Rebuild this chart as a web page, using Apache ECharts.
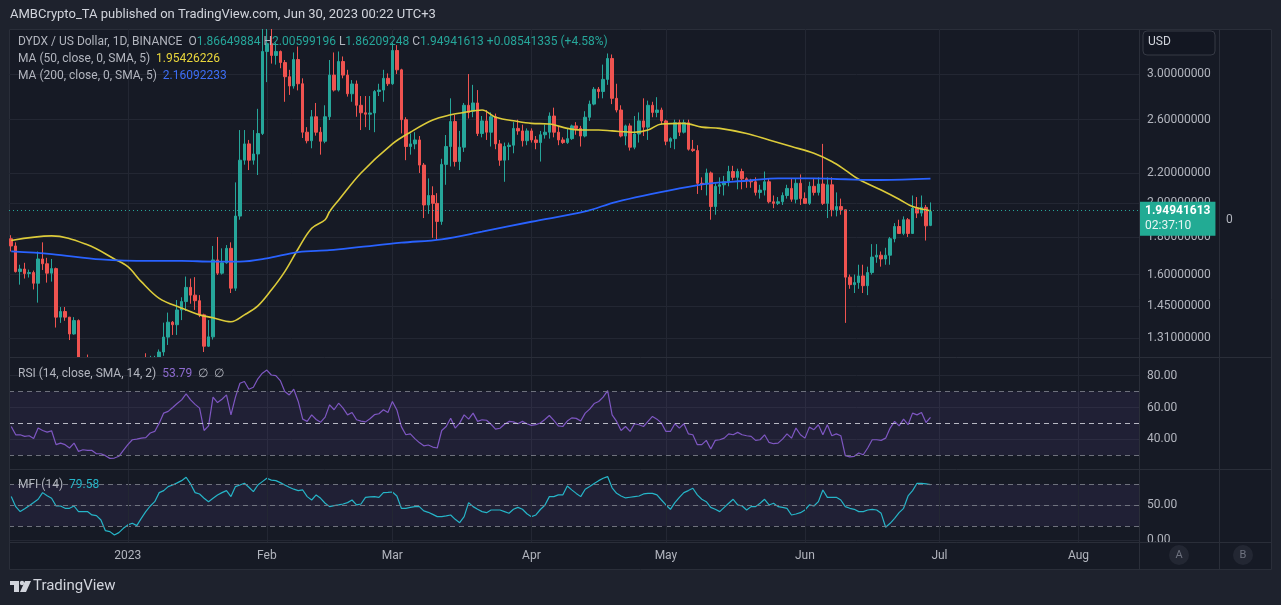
<!DOCTYPE html>
<html><head><meta charset="utf-8">
<script src="https://cdn.jsdelivr.net/npm/echarts@6/dist/echarts.min.js"></script>
<style>
html,body{margin:0;padding:0;background:#1e222d;width:1281px;height:605px;overflow:hidden;}
#panel{position:absolute;left:9px;top:29px;width:1263px;height:541px;background:#161a25;}
#bg{position:absolute;left:0;top:0;width:1281px;height:605px;}
#mainWrap{position:absolute;left:9px;top:29px;width:1263px;height:328px;overflow:hidden;}
#main{width:1263px;height:328px;}
</style></head><body>
<div id="panel"></div>
<div id="bg"></div>
<div id="mainWrap"><div id="main"></div></div>
<script>
// ---------- data ----------
const startDate = '2022-12-06';
const dayCount = 252;
const monthNames = ['Jan','Feb','Mar','Apr','May','Jun','Jul','Aug','Sep','Oct','Nov','Dec'];

const open = [1.79,1.75,1.615,1.628,1.605,1.61,1.557,1.68,1.655,1.607,
1.63,1.40,1.425,1.40,1.328,1.385,1.20,1.22,1.17,1.15,
1.12,1.10,1.06,1.01,1.03,1.00,1.04,1.07,1.10,1.09,
1.20,1.19,1.21,1.22,1.255,1.315,1.378,1.367,1.432,1.47,
1.537,1.50,1.474,1.41,1.278,1.316,1.675,1.607,1.66,1.737,
1.533,1.922,2.29,2.41,2.29,2.335,2.49,3.22,3.30,3.18,
3.22,3.11,2.975,2.89,3.14,2.91,2.50,2.434,2.624,2.50,
2.43,2.624,2.99,2.853,3.12,2.99,2.82,2.908,2.72,2.657,
2.645,2.655,2.84,2.853,2.96,2.91,3.23,3.04,2.60,2.39,
2.41,2.44,2.255,1.99,2.05,2.00,1.89,2.26,2.39,2.585,
2.28,2.385,2.72,2.67,2.74,2.49,2.59,2.50,2.624,2.41,
2.29,2.39,2.40,2.53,2.51,2.434,2.51,2.44,2.42,2.48,
2.50,2.63,2.50,2.44,2.42,2.45,2.55,2.53,2.47,2.62,
2.73,2.86,2.84,2.95,3.15,2.78,2.68,2.47,2.55,2.385,
2.486,2.59,2.54,2.72,2.66,2.68,2.59,2.43,2.45,2.575,
2.50,2.575,2.37,2.36,2.13,2.125,2.20,1.98,2.11,2.12,
2.14,2.21,2.17,2.21,2.16,2.15,2.14,2.07,2.085,2.14,
2.01,2.00,2.01,2.05,2.096,2.026,2.13,2.03,2.00,2.11,
2.07,2.125,2.00,2.12,1.96,1.98,1.96,1.587,1.55,1.56,
1.593,1.545,1.61,1.69,1.70,1.68,1.70,1.79,1.86,1.82,
1.90,1.82,1.97,1.94,1.975,1.86649884];

const high = [1.81,1.77,1.65,1.66,1.625,1.62,1.72,1.77,1.686,1.68,
1.635,1.445,1.445,1.40,1.40,1.39,1.23,1.245,1.19,1.17,
1.15,1.13,1.08,1.05,1.05,1.06,1.08,1.12,1.13,1.22,
1.25,1.24,1.24,1.265,1.376,1.42,1.383,1.477,1.49,1.59,
1.58,1.587,1.50,1.415,1.387,1.75,1.80,1.737,1.755,1.77,
2.136,2.517,2.517,2.44,2.517,2.69,3.48,3.48,3.48,3.31,
3.23,3.135,3.04,3.21,3.27,2.96,2.54,2.68,2.74,2.54,
2.72,3.135,3.21,3.22,3.17,3.04,2.944,2.94,2.80,2.80,
2.80,2.853,2.91,3.04,3.006,3.31,3.285,3.05,2.62,2.49,
2.50,2.47,2.27,2.163,2.11,2.065,2.30,2.478,2.78,2.64,
2.51,2.74,3.00,2.90,2.853,2.63,2.68,2.66,2.65,2.44,
2.42,2.42,2.58,2.60,2.56,2.53,2.53,2.47,2.51,2.56,
2.66,2.70,2.55,2.46,2.53,2.56,2.58,2.55,2.67,2.76,
2.88,2.88,3.09,3.20,3.19,2.91,2.72,2.56,2.57,2.63,
2.66,2.78,2.76,2.75,2.79,2.70,2.60,2.46,2.60,2.60,
2.60,2.60,2.44,2.40,2.17,2.23,2.21,2.13,2.17,2.18,
2.25,2.25,2.23,2.23,2.17,2.16,2.17,2.12,2.21,2.16,
2.05,2.04,2.07,2.12,2.16,2.16,2.19,2.07,2.14,2.16,
2.17,2.41,2.17,2.17,2.07,2.03,1.96,1.60,1.60,1.65,
1.65,1.64,1.76,1.76,1.72,1.74,1.80,1.88,1.90,1.92,
1.91,2.05,2.04,2.05,1.99,2.00599196];

const low = [1.72,1.61,1.55,1.58,1.585,1.527,1.465,1.623,1.56,1.565,
1.355,1.375,1.384,1.303,1.325,1.18,1.15,1.15,1.12,1.10,
1.08,1.04,0.99,0.98,0.97,0.99,1.02,1.05,1.07,1.08,
1.18,1.17,1.19,1.20,1.24,1.283,1.324,1.324,1.387,1.427,
1.46,1.432,1.40,1.255,1.275,1.305,1.598,1.60,1.655,1.51,
1.52,1.90,2.258,2.22,2.258,2.186,2.478,2.925,3.10,3.09,
3.055,2.75,2.81,2.866,2.85,2.455,2.414,2.377,2.473,2.33,
2.415,2.597,2.84,2.84,2.96,2.795,2.75,2.624,2.517,2.54,
2.517,2.50,2.80,2.75,2.89,2.90,3.00,2.49,2.29,2.33,
2.37,2.20,1.91,1.935,1.795,1.783,1.87,2.12,2.245,2.245,
2.22,2.35,2.61,2.62,2.47,2.46,2.44,2.39,2.37,2.25,
2.14,2.29,2.34,2.48,2.39,2.40,2.42,2.37,2.28,2.45,
2.45,2.46,2.40,2.41,2.41,2.44,2.48,2.39,2.46,2.59,
2.72,2.78,2.78,2.90,2.73,2.66,2.46,2.40,2.36,2.37,
2.42,2.47,2.44,2.62,2.62,2.56,2.40,2.38,2.37,2.47,
2.49,2.36,2.35,2.06,2.085,2.05,1.90,1.93,2.06,2.05,
2.11,2.15,2.09,2.09,2.10,2.10,2.05,2.03,2.05,2.00,
1.97,1.99,1.99,2.03,2.01,2.00,1.99,2.00,1.99,2.05,
2.05,1.99,1.91,1.92,1.92,1.93,1.375,1.53,1.51,1.53,
1.51,1.50,1.60,1.66,1.64,1.65,1.65,1.77,1.82,1.81,
1.80,1.82,1.91,1.92,1.78,1.86209248];

const close = [1.75,1.615,1.628,1.605,1.61,1.557,1.68,1.655,1.607,1.63,
1.40,1.425,1.40,1.328,1.385,1.20,1.22,1.17,1.15,1.12,
1.10,1.06,1.01,1.03,1.00,1.04,1.07,1.10,1.09,1.20,
1.19,1.21,1.22,1.255,1.315,1.378,1.367,1.432,1.47,1.537,
1.50,1.474,1.41,1.278,1.316,1.675,1.607,1.66,1.737,1.533,
1.922,2.29,2.41,2.29,2.335,2.49,3.22,3.30,3.18,3.22,
3.11,2.975,2.89,3.14,2.91,2.50,2.434,2.624,2.50,2.43,
2.624,2.99,2.853,3.12,2.99,2.82,2.908,2.72,2.657,2.645,
2.655,2.84,2.853,2.96,2.91,3.23,3.04,2.60,2.39,2.41,
2.44,2.255,1.99,2.05,2.00,1.89,2.26,2.39,2.585,2.28,
2.385,2.72,2.66,2.74,2.49,2.59,2.50,2.624,2.41,2.29,
2.39,2.40,2.53,2.51,2.434,2.51,2.44,2.42,2.48,2.50,
2.63,2.50,2.44,2.42,2.45,2.55,2.53,2.47,2.62,2.73,
2.86,2.84,2.95,3.15,2.78,2.68,2.47,2.55,2.385,2.486,
2.59,2.54,2.72,2.66,2.68,2.59,2.43,2.45,2.575,2.50,
2.575,2.37,2.36,2.13,2.125,2.20,1.98,2.11,2.12,2.14,
2.21,2.17,2.21,2.16,2.15,2.14,2.07,2.085,2.14,2.01,
2.00,2.01,2.05,2.096,2.026,2.13,2.03,2.00,2.11,2.07,
2.125,2.00,2.12,1.96,1.98,1.96,1.587,1.55,1.56,1.593,
1.545,1.61,1.69,1.70,1.68,1.70,1.79,1.86,1.82,1.90,
1.82,1.97,1.94,1.975,1.86400278,1.94941613];

const ma50Dates = ['2022-12-06','2022-12-15','2022-12-23','2022-12-29','2023-01-01','2023-01-04','2023-01-08','2023-01-13','2023-01-17','2023-01-20','2023-01-24','2023-01-27','2023-01-30','2023-02-02','2023-02-05','2023-02-08','2023-02-11','2023-02-14','2023-02-15','2023-02-17','2023-02-22','2023-03-01','2023-03-05','2023-03-10','2023-03-14','2023-03-17','2023-03-21','2023-03-24','2023-03-29','2023-04-01','2023-04-05','2023-04-09','2023-04-12','2023-04-16','2023-04-19','2023-04-24','2023-04-27','2023-04-30','2023-05-05','2023-05-09','2023-05-13','2023-05-19','2023-05-24','2023-05-29','2023-06-03','2023-06-07','2023-06-10','2023-06-13','2023-06-18','2023-06-22','2023-06-25','2023-06-29'];
const ma50Values = [1.78,1.806,1.756,1.68,1.64,1.565,1.485,1.44,1.41,1.397,1.38,1.41,1.45,1.524,1.615,1.735,1.85,1.90,1.95,2.02,2.20,2.41,2.50,2.597,2.64,2.66,2.68,2.62,2.585,2.57,2.565,2.53,2.517,2.517,2.51,2.50,2.517,2.565,2.57,2.54,2.53,2.49,2.44,2.39,2.34,2.28,2.22,2.157,2.085,2.026,1.98,1.95426226];

const ma200Dates = ['2022-12-06','2022-12-15','2022-12-26','2023-01-06','2023-01-13','2023-01-20','2023-01-26','2023-02-01','2023-02-08','2023-02-15','2023-02-22','2023-03-03','2023-03-12','2023-03-21','2023-04-01','2023-04-13','2023-04-20','2023-05-04','2023-05-11','2023-05-19','2023-05-26','2023-06-03','2023-06-10','2023-06-18','2023-06-29'];
const ma200Values = [1.72,1.706,1.678,1.67,1.67,1.666,1.666,1.683,1.717,1.727,1.745,1.768,1.787,1.83,1.888,1.95,2.01,2.096,2.13,2.147,2.163,2.163,2.157,2.152,2.16092233];

const rsi = [48.1,42.9,42.9,41.9,42.3,40.6,47.1,45.6,44.6,45.4,
36.7,37.7,36.7,34.6,37.7,32.5,33.5,33.1,33.1,31.0,
31.0,29.8,28.1,28.3,29.4,33.1,36.7,39.8,40.2,40.8,
41.1,44.0,45.0,50.2,56.5,57.6,60.0,62.5,64.8,68.6,
64.8,62.0,59.6,45.6,48.5,66.5,63.1,65.2,67.9,55.4,
66.5,75.2,76.3,71.5,72.7,78.0,81.5,83.5,80.4,80.0,
76.9,70.0,67.9,71.5,63.8,52.7,51.3,55.4,52.5,50.8,
54.0,61.7,58.6,62.7,59.6,55.4,56.9,52.3,51.5,51.0,
53.0,55.5,56.1,58.6,56.9,63.8,58.5,48.0,42.9,43.5,
40.5,38.0,36.0,36.5,35.2,34.6,45.6,48.1,53.3,47.1,
50.2,55.4,52.7,56.5,51.3,52.3,52.0,49.5,46.5,47.0,
49.5,51.3,51.0,49.8,51.3,49.8,48.8,49.3,50.3,52.5,
55.0,51.9,48.5,48.1,51.5,53.5,53.2,51.5,56.5,59.0,
62.5,63.8,66.5,70.6,55.4,51.3,45.6,48.1,45.0,49.8,
49.2,48.1,51.3,54.4,52.7,50.2,45.0,45.0,49.8,47.1,
49.8,43.5,42.9,36.7,36.7,39.4,34.0,39.4,39.8,40.8,
43.5,42.9,44.4,42.9,42.3,41.9,39.4,39.8,42.9,38.1,
37.3,37.7,40.2,43.5,40.8,47.1,42.9,40.8,47.7,46.1,
49.2,42.9,49.2,42.3,43.5,42.3,29.8,29.0,29.4,31.5,
30.4,34.6,39.8,39.8,39.4,40.8,47.1,51.3,48.5,52.7,
49.2,56.5,55.4,56.9,50.6,53.79];

const mfi = [62.4,48.1,41.0,45.0,49.5,54.0,58.6,68.1,63.5,60.0,
49.0,49.0,45.7,45.7,49.0,41.0,41.0,41.0,36.2,35.2,
29.0,13.8,12.4,7.6,11.0,17.1,22.0,24.3,21.0,31.4,
41.0,49.0,55.2,68.1,71.0,76.7,79.0,82.0,85.2,90.0,
80.5,68.1,66.2,60.0,55.2,60.0,64.8,68.1,71.0,62.4,
76.7,79.0,81.4,75.7,69.5,79.0,83.8,88.6,86.0,85.2,
82.4,79.0,75.7,73.0,71.0,71.9,62.4,57.6,64.8,60.0,
52.9,48.1,49.5,50.5,51.9,53.8,57.6,50.5,51.9,61.4,
62.0,62.4,61.4,68.1,68.5,69.0,63.3,45.7,45.7,47.0,
48.1,48.1,42.0,40.0,37.0,33.8,33.8,34.8,36.2,30.0,
25.2,33.8,53.8,48.1,44.3,41.0,39.5,43.3,43.3,43.3,
41.0,38.6,44.3,47.1,44.3,38.0,33.8,36.2,44.0,50.0,
62.4,62.4,64.8,64.8,77.6,72.0,67.0,62.4,72.9,76.7,
81.0,85.2,88.6,91.0,75.0,67.1,63.3,60.5,61.5,62.4,
63.3,66.2,67.1,67.1,64.8,57.6,50.5,44.3,53.8,61.4,
68.1,71.0,74.3,64.8,58.6,55.2,47.1,44.3,41.0,47.1,
52.9,58.6,50.5,49.0,43.3,48.1,48.1,52.9,58.6,50.5,
52.9,48.1,47.1,45.7,36.2,37.6,39.5,43.3,50.5,49.0,
55.2,71.9,61.4,61.4,61.4,57.6,48.1,45.7,44.3,41.0,
41.0,43.3,44.3,43.3,38.5,18.6,24.3,31.4,39.5,45.7,
63.3,71.0,81.4,81.4,80.5,79.58];

const priceTicks = [3.0, 2.6, 2.2, 2.0, 1.8, 1.6, 1.45, 1.31];
const priceRange = [1.2355, 3.455];
const rsiTicks = [80, 60, 40];
const rsiLevels = [70, 50, 30];
const rsiRange = [21.44, 91.06];
const mfiTicks = [50, 0];
const mfiLevels = [80, 50, 20];
const mfiRange = [-2.4, 100.4];

// ---------- helpers ----------
const DAY = 86400000;
const t0 = Date.parse(startDate + 'T00:00:00Z');
const dates = Array.from({length: dayCount}, (_, i) => new Date(t0 + i * DAY).toISOString().slice(0, 10));
const dayIndex = s => Math.round((Date.parse(s + 'T00:00:00Z') - t0) / DAY);
const monthStarts = dates.map((d, i) => d.endsWith('-01') ? i : -1).filter(i => i >= 0);
const monthLabel = i => { const p = dates[i].split('-'); return p[1] === '01' ? p[0] : monthNames[+p[1] - 1]; };
const L = Math.log;
const fmt8 = v => v.toFixed(8);

const UP = '#26a69a', DOWN = '#ef5350';
const GRID = '#232733', SEP = '#2a2e39', TXT = '#b2b5be';
const FONT = 'Roboto, "Noto Sans", sans-serif';
const LF = 12;
const rt = (fill) => ({fill: fill, fontSize: LF, fontFamily: FONT});

const xBase = {
  type: 'value', min: -0.5, max: dayCount - 0.5,
  axisLine: {show: false},
  axisTick: {show: false, customValues: monthStarts},
  axisLabel: {show: false, customValues: monthStarts},
  splitLine: {show: true, lineStyle: {color: GRID, width: 1}}
};

// ---------- main price pane ----------
const main = echarts.init(document.getElementById('main'), null, {width: 1263, height: 328});
const last = close.length - 1;
const chg = close[last] - close[last - 1];
const legend1 = '{t|DYDX / US Dollar, 1D, BINANCE}  {t|O}{v|' + fmt8(open[last]) + '} {t|H}{v|' + fmt8(high[last]) +
  '} {t|L}{v|' + fmt8(low[last]) + '} {t|C}{v|' + fmt8(close[last]) + '} {v|' + (chg >= 0 ? '+' : '') + fmt8(chg) +
  ' (' + (chg >= 0 ? '+' : '') + (chg / close[last - 1] * 100).toFixed(2) + '%)}';

main.setOption({
  animation: false,
  grid: {left: 0, top: 0, width: 1130, height: 328},
  xAxis: xBase,
  yAxis: {
    type: 'value', position: 'right', scale: true,
    min: L(priceRange[0]), max: L(priceRange[1]),
    axisLine: {show: false},
    axisTick: {show: false, customValues: priceTicks.map(L)},
    axisLabel: {customValues: priceTicks.map(L), formatter: v => Math.exp(v).toFixed(8), color: TXT, fontSize: 12, fontFamily: FONT, margin: 8},
    splitLine: {show: true, lineStyle: {color: GRID}}
  },
  series: [
    {
      type: 'candlestick', barWidth: 3,
      encode: {x: 0, y: [1, 2, 3, 4]},
      data: close.map((c, i) => [i, L(open[i]), L(c), L(low[i]), L(high[i])]),
      itemStyle: {color: UP, color0: DOWN, borderColor: UP, borderColor0: DOWN, borderWidth: 1},
      markLine: {
        silent: true, symbol: 'none', animation: false,
        lineStyle: {color: UP, type: [1, 3], width: 1},
        label: {
          show: true, position: 'end', distance: 1, offset: [0, 8],
          formatter: '{a|' + fmt8(close[last]) + '}\n{b|02:37:10}',
          backgroundColor: '#22ab94', padding: [2, 5, 2, 5],
          rich: {a: {color: '#fff', fontWeight: 'bold', fontSize: 12, fontFamily: FONT, lineHeight: 15},
                 b: {color: '#e8f5f3', fontSize: 12, fontFamily: FONT, lineHeight: 15}}
        },
        data: [{yAxis: L(close[last])}]
      }
    },
    {type: 'line', data: ma50Dates.map((d, i) => [dayIndex(d), L(ma50Values[i])]), smooth: 0.35, showSymbol: false,
     lineStyle: {color: '#dccb3a', width: 1.6}, z: 3},
    {type: 'line', data: ma200Dates.map((d, i) => [dayIndex(d), L(ma200Values[i])]), smooth: 0.35, showSymbol: false,
     lineStyle: {color: '#2962ff', width: 1.8}, z: 3}
  ],
  graphic: [
    {type: 'text', left: 9, top: 7, z: 20, style: {text: legend1, fontSize: LF, fontFamily: FONT, rich: {t: rt(TXT), v: rt(UP)}}},
    {type: 'text', left: 9, top: 24, z: 20, style: {text: '{t|MA (50, close, 0, SMA, 5)}  {v|' + fmt8(ma50Values[ma50Values.length - 1]) + '}', fontSize: LF, fontFamily: FONT,
      rich: {t: rt(TXT), v: rt('#e8d53c')}}},
    {type: 'text', left: 9, top: 41, z: 20, style: {text: '{t|MA (200, close, 0, SMA, 5)}  {v|' + fmt8(ma200Values[ma200Values.length - 1]) + '}', fontSize: LF, fontFamily: FONT,
      rich: {t: rt(TXT), v: rt('#3d6ef5')}}}
  ]
});

// ---------- background, indicators, x axis ----------
const bg = echarts.init(document.getElementById('bg'), null, {width: 1281, height: 605});
const hLine = (y, x1, x2) => ({type: 'line', z: 40, shape: {x1: x1, y1: y, x2: x2, y2: y}, style: {stroke: SEP, lineWidth: 1}});
const vLine = (x, y1, y2) => ({type: 'line', z: 40, shape: {x1: x, y1: y1, x2: x, y2: y2}, style: {stroke: SEP, lineWidth: 1}});

bg.setOption({
  animation: false,
  grid: [
    {left: 9, top: 358, width: 1130, height: 111},
    {left: 9, top: 470, width: 1130, height: 72}
  ],
  xAxis: [
    Object.assign({}, xBase, {gridIndex: 0}),
    Object.assign({}, xBase, {gridIndex: 1, z: 60,
      axisLabel: {show: true, customValues: monthStarts, formatter: v => monthLabel(Math.round(v)), color: TXT, fontSize: 12, fontFamily: FONT, margin: 8}})
  ],
  yAxis: [
    {type: 'value', gridIndex: 0, position: 'right', min: rsiRange[0], max: rsiRange[1],
     axisLine: {show: false}, axisTick: {show: false, customValues: rsiTicks},
     axisLabel: {customValues: rsiTicks, formatter: v => v.toFixed(2), color: TXT, fontSize: 12, fontFamily: FONT, margin: 8},
     splitLine: {show: true, lineStyle: {color: GRID}}},
    {type: 'value', gridIndex: 1, position: 'right', min: mfiRange[0], max: mfiRange[1],
     axisLine: {show: false}, axisTick: {show: false, customValues: mfiTicks},
     axisLabel: {customValues: mfiTicks, formatter: v => v.toFixed(2), color: TXT, fontSize: 12, fontFamily: FONT, margin: 8},
     splitLine: {show: true, lineStyle: {color: GRID}}}
  ],
  series: [
    {type: 'line', xAxisIndex: 0, yAxisIndex: 0, data: rsi.map((v, i) => [i, v]), showSymbol: false,
     lineStyle: {color: '#7e57c2', width: 1.2},
     markArea: {silent: true, itemStyle: {color: 'rgba(126,87,194,0.1)'}, data: [[{yAxis: rsiLevels[2]}, {yAxis: rsiLevels[0]}]]},
     markLine: {silent: true, symbol: 'none', label: {show: false},
       data: rsiLevels.map((v, k) => ({yAxis: v, lineStyle: {color: k === 1 ? 'rgba(210,212,220,0.85)' : 'rgba(120,123,134,0.9)', type: [5, 4], width: 1}}))}},
    {type: 'line', xAxisIndex: 1, yAxisIndex: 1, data: mfi.map((v, i) => [i, v]), showSymbol: false,
     lineStyle: {color: '#26b5c8', width: 1.2},
     markArea: {silent: true, itemStyle: {color: 'rgba(126,87,194,0.1)'}, data: [[{yAxis: mfiLevels[2]}, {yAxis: mfiLevels[0]}]]},
     markLine: {silent: true, symbol: 'none', label: {show: false},
       data: mfiLevels.map(v => ({yAxis: v, lineStyle: {color: 'rgba(120,123,134,0.9)', type: [5, 4], width: 1}}))}}
  ],
  graphic: [
    {type: 'rect', z: 50, shape: {x: 9, y: 543, width: 1263, height: 27}, style: {fill: '#161a25'}},
    {type: 'text', left: 10, top: 8, z: 70, style: {text: 'AMBCrypto_TA published on TradingView.com, Jun 30, 2023 00:22 UTC+3', fill: '#d1d4dc', fontSize: 13, fontFamily: FONT}},
    {type: 'rect', z: 70, shape: {x: 9.5, y: 29.5, width: 1262, height: 540}, style: {fill: 'none', stroke: SEP, lineWidth: 1}},
    hLine(357.5, 9, 1272), hLine(469.5, 9, 1272), hLine(542.5, 9, 1272),
    vLine(1139.5, 29, 570), vLine(1219.5, 29, 570),
    Object.assign(hLine(542.5, 9, 1272), {z: 70}), Object.assign(vLine(1139.5, 543, 570), {z: 70}), Object.assign(vLine(1219.5, 543, 570), {z: 70}),
    {type: 'rect', z: 60, shape: {x: 1143, y: 31, width: 72, height: 24, r: 4}, style: {fill: '#131722', stroke: '#363a45', lineWidth: 1}},
    {type: 'text', z: 61, left: 1148, top: 36, style: {text: 'USD', fill: '#d1d4dc', fontSize: 12, fontFamily: FONT}},
    {type: 'text', z: 61, left: 1226, top: 214, style: {text: '0', fill: TXT, fontSize: 12, fontFamily: FONT}},
    {type: 'circle', z: 71, shape: {cx: 1179, cy: 555, r: 10}, style: {fill: '#232733'}},
    {type: 'text', z: 72, x: 1179, y: 555, style: {text: 'A', fill: '#6f7380', fontSize: 11, fontFamily: FONT, align: 'center', verticalAlign: 'middle'}},
    {type: 'circle', z: 71, shape: {cx: 1243, cy: 555, r: 10}, style: {fill: '#232733'}},
    {type: 'text', z: 72, x: 1243, y: 555, style: {text: 'B', fill: '#6f7380', fontSize: 11, fontFamily: FONT, align: 'center', verticalAlign: 'middle'}},
    {type: 'text', left: 18, top: 368, z: 70, style: {text: '{t|RSI (14, close, SMA, 14, 2)}  {v|' + rsi[rsi.length - 1].toFixed(2) + '}  {t|∅  ∅}', fontSize: LF, fontFamily: FONT,
      rich: {t: rt(TXT), v: rt('#8e6bd0')}}},
    {type: 'text', left: 18, top: 479, z: 70, style: {text: '{t|MFI (14)}  {v|' + mfi[mfi.length - 1].toFixed(2) + '}', fontSize: LF, fontFamily: FONT,
      rich: {t: rt(TXT), v: rt('#26b5c8')}}},
    // TradingView logo
    {type: 'group', z: 70, children: [
      {type: 'rect', shape: {x: 10, y: 581, width: 9, height: 4}, style: {fill: '#d1d4dc'}},
      {type: 'rect', shape: {x: 14, y: 581, width: 5, height: 11}, style: {fill: '#d1d4dc'}},
      {type: 'circle', shape: {cx: 22, cy: 583, r: 2.2}, style: {fill: '#d1d4dc'}},
      {type: 'polygon', shape: {points: [[25, 581], [31, 581], [26, 592], [20, 592]]}, style: {fill: '#d1d4dc'}}
    ]},
    {type: 'text', left: 33, top: 579, z: 70, style: {text: 'TradingView', fill: '#d1d4dc', fontSize: 15, fontFamily: FONT}}
  ]
});
</script>
</body></html>
